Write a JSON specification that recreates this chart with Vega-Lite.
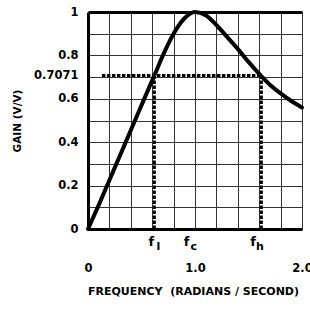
{
  "$schema": "https://vega.github.io/schema/vega-lite/v6.json",
  "width": 214,
  "height": 217,
  "autosize": "none",
  "padding": {"left": 88, "top": 12, "right": 8, "bottom": 83},
  "background": "white",
  "config": {
    "view": {"stroke": null},
    "font": "DejaVu Sans",
    "axis": {
      "labelFont": "DejaVu Sans",
      "labelFontWeight": "bold",
      "labelFontSize": 11,
      "labelColor": "black",
      "labelFlush": false,
      "labelOverlap": false,
      "titleFont": "DejaVu Sans",
      "titleFontWeight": "bold",
      "titleFontSize": 11,
      "titleColor": "black"
    }
  },
  "datasets": {
    "curve": [
      {"w": 0.0, "gain": 0.0},
      {"w": 0.1, "gain": 0.11},
      {"w": 0.2, "gain": 0.225},
      {"w": 0.3, "gain": 0.34},
      {"w": 0.4, "gain": 0.455},
      {"w": 0.5, "gain": 0.57},
      {"w": 0.6, "gain": 0.685},
      {"w": 0.62, "gain": 0.7071},
      {"w": 0.7, "gain": 0.8},
      {"w": 0.8, "gain": 0.9},
      {"w": 0.9, "gain": 0.97},
      {"w": 1.0, "gain": 1.0},
      {"w": 1.1, "gain": 0.985},
      {"w": 1.2, "gain": 0.94},
      {"w": 1.3, "gain": 0.885},
      {"w": 1.4, "gain": 0.83},
      {"w": 1.5, "gain": 0.77},
      {"w": 1.6, "gain": 0.715},
      {"w": 1.7, "gain": 0.665},
      {"w": 1.8, "gain": 0.625},
      {"w": 1.9, "gain": 0.59},
      {"w": 2.0, "gain": 0.56}
    ],
    "guides": [
      {"x": 0.13, "x2": 1.62, "y": 0.7071, "y2": 0.7071},
      {"x": 0.62, "x2": 0.62, "y": 0.0, "y2": 0.7071},
      {"x": 1.62, "x2": 1.62, "y": 0.0, "y2": 0.7071}
    ],
    "flabels": [
      {"x": 0.62, "main": "f", "sub": "l"},
      {"x": 0.95, "main": "f", "sub": "c"},
      {"x": 1.57, "main": "f", "sub": "h"}
    ]
  },
  "layer": [
    {
      "data": {"name": "guides"},
      "mark": {"type": "rule", "strokeWidth": 3, "strokeDash": [3.5, 1.5], "color": "black"},
      "encoding": {
        "x": {
          "field": "x", "type": "quantitative",
          "scale": {"domain": [0, 2], "nice": false, "zero": false},
          "axis": {
            "orient": "top", "values": [0, 0.2, 0.4, 0.6, 0.8, 1.0, 1.2, 1.4, 1.6, 1.8, 2.0],
            "grid": true, "gridColor": "#333", "gridWidth": 1, "gridOpacity": 1,
            "labels": false, "ticks": false, "domain": true, "domainWidth": 3, "domainColor": "black",
            "title": null
          }
        },
        "x2": {"field": "x2"},
        "y": {
          "field": "y", "type": "quantitative",
          "scale": {"domain": [0, 1], "nice": false, "zero": false},
          "axis": {
            "orient": "right", "values": [0, 0.1, 0.2, 0.3, 0.4, 0.5, 0.6, 0.7, 0.8, 0.9, 1.0],
            "grid": true, "gridColor": "#333", "gridWidth": 1, "gridOpacity": 1,
            "labels": false, "ticks": false, "domain": true, "domainWidth": 1, "domainColor": "#333",
            "title": null
          }
        },
        "y2": {"field": "y2"}
      }
    },
    {
      "data": {"name": "curve"},
      "mark": {"type": "line", "strokeWidth": 4, "color": "black", "interpolate": "monotone", "strokeCap": "round"},
      "encoding": {
        "x": {
          "field": "w", "type": "quantitative",
          "axis": {
            "orient": "bottom", "values": [0, 1, 2],
            "labelExpr": "datum.value == 0 ? '0' : format(datum.value, '.1f')",
            "grid": false, "ticks": false, "domain": true, "domainWidth": 3, "domainColor": "black",
            "labelPadding": 33, "labelFontSize": 11.5,
            "title": "FREQUENCY\u00a0\u00a0(RADIANS / SECOND)", "titlePadding": 12, "titleX": 105
          }
        },
        "y": {
          "field": "gain", "type": "quantitative",
          "axis": {
            "orient": "left", "values": [0, 0.2, 0.4, 0.6, 0.7071, 0.8, 1],
            "labelExpr": "datum.value == 0.7071 ? '0.7071' : (datum.value == 0 || datum.value == 1) ? format(datum.value, 'd') : format(datum.value, '.1f')",
            "grid": false, "ticks": false, "domain": true, "domainWidth": 3, "domainColor": "black",
            "labelPadding": 10, "labelFontSize": 11.5,
            "title": "GAIN (V/V)", "titlePadding": 11, "titleFontSize": 10.5
          }
        }
      }
    },
    {
      "data": {"name": "flabels"},
      "mark": {"type": "text", "font": "DejaVu Sans", "fontWeight": "bold", "fontSize": 13, "dx": -3, "baseline": "middle", "color": "black"},
      "encoding": {
        "x": {"field": "x", "type": "quantitative", "axis": null},
        "y": {"datum": -0.06, "axis": null},
        "text": {"field": "main"}
      }
    },
    {
      "data": {"name": "flabels"},
      "mark": {"type": "text", "font": "DejaVu Sans", "fontWeight": "bold", "fontSize": 11, "dx": 4, "dy": 5, "baseline": "middle", "color": "black"},
      "encoding": {
        "x": {"field": "x", "type": "quantitative", "axis": null},
        "y": {"datum": -0.06, "axis": null},
        "text": {"field": "sub"}
      }
    }
  ]
}
